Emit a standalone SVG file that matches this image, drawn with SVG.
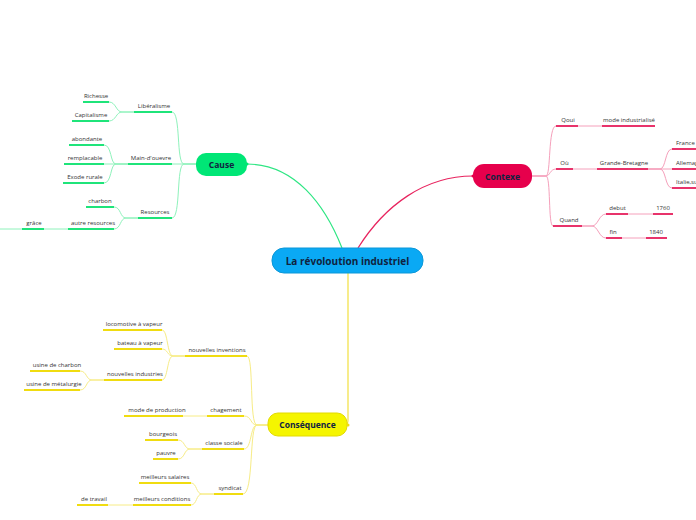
<svg xmlns="http://www.w3.org/2000/svg" width="696" height="520" viewBox="0 0 696 520">
<style>
text{font-family:"Open Sans","Noto Sans",sans-serif;fill:#333;font-size:6px;text-anchor:middle}
.n{font-weight:bold;fill:#102340}
.c{fill:none;stroke-width:1}
.g{stroke:#8ef2bb}.r{stroke:#f5a0bb}.y{stroke:#f7ec86}
.u{fill:none;stroke-width:2}
.ug{stroke:#1fe47a}.ur{stroke:#e8336b}.uy{stroke:#f0dc10}
</style>
<rect width="696" height="520" fill="#fff"/>
<g id="connectors">
<path d="M247,164 C295,164 325,205 342,248" fill="none" stroke="#2ee683" stroke-width="1.2"/>
<path d="M358,248 C385,205 425,176 473,176" fill="none" stroke="#e8245f" stroke-width="1.2"/>
<path d="M348,273 L348,420 Q348,425 345,425" fill="none" stroke="#f2e040" stroke-width="1.2"/>
<!-- cause -->
<path class="c g" d="M196,164 L184,164 C176,164 181,112 172,112"/>
<path class="c g" d="M196,164 L172,164"/>
<path class="c g" d="M196,164 L184,164 C176,164 181,218 172,218"/>
<path class="c g" d="M134,112 L122,112 C116,112 116,102 109,102"/>
<path class="c g" d="M134,112 L122,112 C116,112 116,121 109,121"/>
<path class="c g" d="M128,164 L116,164 C110,164 112,145 104,145"/>
<path class="c g" d="M128,164 L104,164"/>
<path class="c g" d="M128,164 L116,164 C110,164 112,183 104,183"/>
<path class="c g" d="M138,218 L126,218 C120,218 121,207 114,207"/>
<path class="c g" d="M138,218 L126,218 C120,218 121,229 114,229"/>
<path class="c g" d="M68,229 L44,229"/>
<path class="c g" d="M22,229 L0,229"/>
<!-- contexte -->
<path class="c r" d="M532,176 L546,176 C551,176 548,126 556,126"/>
<path class="c r" d="M532,176 L546,176 C550,176 550,169 556,169"/>
<path class="c r" d="M532,176 L546,176 C551,176 548,226 553,226"/>
<path class="c r" d="M578,126 L602,126"/>
<path class="c r" d="M573,169 L597,169"/>
<path class="c r" d="M648,169 L660,169 C666,169 665,149 672,149"/>
<path class="c r" d="M648,169 L672,169"/>
<path class="c r" d="M648,169 L660,169 C666,169 665,188 672,188"/>
<path class="c r" d="M582,226 L592,226 C598,226 599,214 606,214"/>
<path class="c r" d="M582,226 L592,226 C598,226 599,238 606,238"/>
<path class="c r" d="M628,214 L653,214"/>
<path class="c r" d="M622,238 L646,238"/>
<!-- consequence -->
<path class="c y" d="M268,425 L257,425 C249,425 254,356 247,356"/>
<path class="c y" d="M268,425 L257,425 C250,425 252,416 244,416"/>
<path class="c y" d="M268,425 L257,425 C250,425 252,449 244,449"/>
<path class="c y" d="M268,425 L257,425 C249,425 254,494 243,494"/>
<path class="c y" d="M185,356 L173,356 C167,356 168,330 162,330"/>
<path class="c y" d="M185,356 L173,356 C167,356 168,349 162,349"/>
<path class="c y" d="M185,356 L173,356 C167,356 168,380 162,380"/>
<path class="c y" d="M104,380 L92,380 C86,380 87,371 80,371"/>
<path class="c y" d="M104,380 L92,380 C86,380 87,390 80,390"/>
<path class="c y" d="M207,416 L183,416"/>
<path class="c y" d="M202,449 L190,449 C184,449 185,440 178,440"/>
<path class="c y" d="M202,449 L190,449 C184,449 185,459 178,459"/>
<path class="c y" d="M214,494 L202,494 C196,494 197,483 191,483"/>
<path class="c y" d="M214,494 L202,494 C196,494 197,505 191,505"/>
<path class="c y" d="M133,505 L108,505"/>
</g>
<g id="central">
<rect x="272" y="248" width="151" height="25" rx="12" fill="#0aa9f4" stroke="#0a97d8" stroke-width="1"/>
<text class="n" x="347.5" y="264.5" style="font-size:10px">La révoloution industriel</text>
</g>
<g id="cause">
<rect x="196" y="153" width="51" height="23" rx="10" fill="#00e676"/>
<circle cx="247" cy="164" r="1.5" fill="#00e676"/>
<text class="n" x="221.5" y="167.5" style="font-size:8.5px">Cause</text>
</g>
<g id="contexte">
<rect x="473" y="164" width="59" height="24" rx="11" fill="#e6004c"/>
<circle cx="473" cy="176" r="1.5" fill="#e6004c"/>
<text class="n" x="502.5" y="179.5" style="font-size:8.5px">Contexe</text>
</g>
<g id="consequence">
<rect x="268" y="413" width="79" height="23" rx="10" fill="#f5f500" stroke="#e3da00" stroke-width="1"/>
<circle cx="348" cy="425" r="1.5" fill="#f0dc10"/>
<text class="n" x="307.5" y="428" style="font-size:8.5px">Conséquence</text>
</g>
<g id="liberalisme"><path class="u ug" d="M134,112 H172"/><text x="154" y="108">Libéralisme</text></g>
<g id="richesse"><path class="u ug" d="M83,102 H109"/><text x="96" y="98">Richesse</text></g>
<g id="capitalisme"><path class="u ug" d="M72,121 H109"/><text x="91" y="117">Capitalisme</text></g>
<g id="main-doeuvre"><path class="u ug" d="M128,164 H172"/><text x="151" y="160">Main-d'ouevre</text></g>
<g id="abondante"><path class="u ug" d="M69,145 H104"/><text x="87" y="141">abondante</text></g>
<g id="remplacable"><path class="u ug" d="M64,164 H104"/><text x="85" y="160">remplacable</text></g>
<g id="exode"><path class="u ug" d="M63,183 H104"/><text x="85" y="179">Exode rurale</text></g>
<g id="resources"><path class="u ug" d="M138,218 H172"/><text x="155" y="214">Resources</text></g>
<g id="charbon"><path class="u ug" d="M86,207 H114"/><text x="100" y="203">charbon</text></g>
<g id="autre"><path class="u ug" d="M68,229 H114"/><text x="93" y="225">autre resources</text></g>
<g id="grace"><path class="u ug" d="M22,229 H44"/><text x="34" y="225">grâce</text></g>
<g id="qoui"><path class="u ur" d="M556,126 H578"/><text x="568" y="122">Qoui</text></g>
<g id="mode-ind"><path class="u ur" d="M602,126 H655"/><text x="629" y="122">mode industrialisé</text></g>
<g id="ou"><path class="u ur" d="M556,169 H573"/><text x="564.5" y="165">Où</text></g>
<g id="gb"><path class="u ur" d="M597,169 H648"/><text x="624" y="165">Grande-Bretagne</text></g>
<g id="france"><path class="u ur" d="M672,149 H696"/><text x="676" y="145" style="text-anchor:start">France</text></g>
<g id="allemagne"><path class="u ur" d="M672,169 H696"/><text x="676" y="165" style="text-anchor:start">Allemagne</text></g>
<g id="italie"><path class="u ur" d="M672,188 H696"/><text x="676" y="184" style="text-anchor:start">Italie,suisse</text></g>
<g id="quand"><path class="u ur" d="M553,226 H582"/><text x="569" y="222">Quand</text></g>
<g id="debut"><path class="u ur" d="M606,214 H628"/><text x="617.5" y="210">debut</text></g>
<g id="y1760"><path class="u ur" d="M653,214 H673"/><text x="663" y="210">1760</text></g>
<g id="fin"><path class="u ur" d="M606,238 H622"/><text x="613" y="234">fin</text></g>
<g id="y1840"><path class="u ur" d="M646,238 H667"/><text x="656" y="234">1840</text></g>
<g id="inventions"><path class="u uy" d="M185,356 H247"/><text x="217" y="352">nouvelles inventions</text></g>
<g id="locomotive"><path class="u uy" d="M103,330 H162"/><text x="134" y="326">locomotive à vapeur</text></g>
<g id="bateau"><path class="u uy" d="M114,349 H162"/><text x="140" y="345">bateau à vapeur</text></g>
<g id="industries"><path class="u uy" d="M104,380 H162"/><text x="135" y="376">nouvelles industries</text></g>
<g id="usine-charbon"><path class="u uy" d="M30,371 H80"/><text x="57" y="367">usine de charbon</text></g>
<g id="usine-metal"><path class="u uy" d="M24,390 H80"/><text x="54" y="386">usine de métalurgie</text></g>
<g id="chagement"><path class="u uy" d="M207,416 H244"/><text x="226" y="412">chagement</text></g>
<g id="mode-prod"><path class="u uy" d="M124,416 H183"/><text x="157" y="412">mode de production</text></g>
<g id="classe"><path class="u uy" d="M202,449 H244"/><text x="224" y="445">classe sociale</text></g>
<g id="bourgeois"><path class="u uy" d="M145,440 H178"/><text x="163" y="436">bourgeois</text></g>
<g id="pauvre"><path class="u uy" d="M153,459 H178"/><text x="166" y="455">pauvre</text></g>
<g id="syndicat"><path class="u uy" d="M214,494 H243"/><text x="230" y="490">syndicat</text></g>
<g id="salaires"><path class="u uy" d="M139,483 H191"/><text x="165" y="479">meilleurs salaires</text></g>
<g id="conditions"><path class="u uy" d="M133,505 H191"/><text x="162" y="501">meilleurs conditions</text></g>
<g id="travail"><path class="u uy" d="M77,505 H108"/><text x="94" y="501">de travail</text></g>
</svg>
